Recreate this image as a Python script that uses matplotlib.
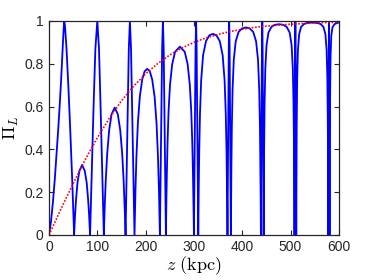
import matplotlib
matplotlib.use("Agg")
import matplotlib.pyplot as plt

# ---- data ----
z_pol = [0, 4, 8, 12, 16, 19, 22, 25, 28, 30, 31.5, 33, 36, 40, 44, 48, 52,
         53, 54, 56, 59, 63, 68.5, 74, 78, 81, 83, 84, 85,
         88.5, 92, 96, 100, 103.5, 107, 110.2, 113.5,
         114.5, 115.5, 117.5, 120.5, 124.5, 129.5, 136, 142.5, 147.5, 151.5, 154.5, 156.5, 157.5, 158.5,
         160.8, 163, 165.2, 167.5, 169.8, 172.2, 174.6, 177,
         178, 179, 181, 184, 188, 193, 198, 203.3, 208.6, 213.6, 218.6, 222.6, 225.6, 227.6, 228.6, 229.6,
         231.1, 232.7, 234.2, 235.8, 237.4, 238.9, 240.5, 242,
         242.5, 243, 244, 245.5, 247.5, 250.5, 255, 261, 271, 281, 287, 291.5, 294.5, 296.5, 298, 299, 299.5, 300,
         301.1, 302.25, 303.4, 304.5, 305.6, 306.75, 307.9, 309,
         309.5, 310, 311, 312.5, 315, 319, 325, 332, 339.25, 346.5, 353.5, 359.5, 363.5, 366, 367.5, 368.5, 369, 369.5,
         370.4, 371.25, 372.1, 373, 373.9, 374.75, 375.6, 376.5,
         377, 377.5, 378.5, 380, 382.5, 386.5, 392.5, 399.5, 407.6, 415.7, 422.7, 428.7, 432.7, 435.2, 436.7, 437.7, 438.2, 438.7,
         439.4, 440.1, 440.8, 441.5, 442.2, 442.9, 443.6, 444.3,
         444.8, 445.3, 446.3, 447.8, 450.3, 454.3, 460.3, 467.3, 476.25, 485.2, 492.2, 498.2, 502.2, 504.7, 506.2, 507.2, 507.7, 508.2,
         508.65, 509.1, 509.55, 510, 510.45, 510.9, 511.35, 511.8,
         512.3, 512.8, 513.8, 515.3, 517.8, 521.8, 527.8, 534.8, 545, 555.2, 562.2, 568.2, 572.2, 574.7, 576.2, 577.2, 577.7, 578.2,
         578.5, 578.85, 579.2, 579.5, 579.8, 580.15, 580.5, 580.8,
         581.3, 581.8, 582.8, 584.3, 586.8, 590.8, 596.8, 600]
pi_pol = [0, 0.06, 0.15, 0.26, 0.39, 0.49, 0.60, 0.72, 0.86, 0.95, 1.0, 0.98, 0.88, 0.70, 0.49, 0.26, 0,
          0.05, 0.095, 0.165, 0.245, 0.30, 0.327, 0.30, 0.245, 0.165, 0.095, 0.05, 0,
          0.29, 0.58, 0.87, 1.0, 0.87, 0.58, 0.29, 0,
          0.075, 0.142, 0.255, 0.38, 0.489, 0.564, 0.595, 0.564, 0.489, 0.38, 0.255, 0.142, 0.075, 0,
          0.29, 0.58, 0.87, 1.0, 0.87, 0.58, 0.29, 0,
          0.113, 0.211, 0.366, 0.523, 0.646, 0.727, 0.765, 0.776, 0.765, 0.727, 0.646, 0.523, 0.366, 0.211, 0.113, 0,
          0.29, 0.58, 0.87, 1.0, 0.87, 0.58, 0.29, 0,
          0.085, 0.161, 0.291, 0.44, 0.577, 0.702, 0.798, 0.856, 0.88, 0.856, 0.798, 0.702, 0.577, 0.44, 0.291, 0.161, 0.085, 0,
          0.29, 0.58, 0.87, 1.0, 0.87, 0.58, 0.29, 0,
          0.12, 0.225, 0.391, 0.562, 0.723, 0.84, 0.906, 0.933, 0.94, 0.933, 0.906, 0.84, 0.723, 0.562, 0.391, 0.225, 0.12, 0,
          0.29, 0.58, 0.87, 1.0, 0.87, 0.58, 0.29, 0,
          0.169, 0.305, 0.503, 0.678, 0.818, 0.905, 0.949, 0.965, 0.97, 0.965, 0.949, 0.905, 0.818, 0.678, 0.503, 0.305, 0.169, 0,
          0.29, 0.58, 0.87, 1.0, 0.87, 0.58, 0.29, 0,
          0.23, 0.40, 0.616, 0.778, 0.887, 0.946, 0.972, 0.982, 0.985, 0.982, 0.972, 0.946, 0.887, 0.778, 0.616, 0.40, 0.23, 0,
          0.29, 0.58, 0.87, 1.0, 0.87, 0.58, 0.29, 0,
          0.318, 0.519, 0.734, 0.864, 0.938, 0.972, 0.986, 0.991, 0.993, 0.991, 0.986, 0.972, 0.938, 0.864, 0.734, 0.519, 0.318, 0,
          0.29, 0.58, 0.87, 1.0, 0.87, 0.58, 0.29, 0,
          0.45, 0.63, 0.83, 0.93, 0.97, 0.985, 0.991, 0.993]

z_env = [0, 25, 50, 75, 100, 125, 150, 175, 200, 225, 250, 275, 300,
         325, 350, 375, 400, 425, 450, 475, 500, 525, 550, 575, 600]
pi_env = [0, 0.122, 0.240, 0.352, 0.454, 0.546, 0.627, 0.695, 0.753, 0.801, 0.841, 0.874, 0.900,
          0.921, 0.937, 0.951, 0.961, 0.970, 0.976, 0.981, 0.985, 0.988, 0.991, 0.993, 0.994]

x_ticks = [0, 100, 200, 300, 400, 500, 600]
y_ticks = [0, 0.2, 0.4, 0.6, 0.8, 1]
y_tick_labels = ["0", "0.2", "0.4", "0.6", "0.8", "1"]

# ---- figure ----
plt.rcParams['font.family'] = ['Liberation Sans', 'DejaVu Sans']
plt.rcParams['mathtext.fontset'] = 'cm'

fig = plt.figure(figsize=(3.74, 2.8), dpi=100)
ax = fig.add_axes([0.131, 0.161, 0.775, 0.764])

ax.plot(z_pol, pi_pol, color=(0, 0, 1), lw=1.3)
ax.plot(z_env, pi_env, color=(1, 0, 0), lw=1.2, linestyle=(0, (1, 1)))

ax.set_xlim(0, 600)
ax.set_ylim(0, 1)
ax.set_xticks(x_ticks)
ax.set_yticks(y_ticks)
ax.set_yticklabels(y_tick_labels)

ax.tick_params(direction='in', length=3.5, width=0.8, top=True, right=True,
               labelsize=10, colors=(0.15, 0.15, 0.15), pad=4)
for s in ax.spines.values():
    s.set_color((0.15, 0.15, 0.15))
    s.set_linewidth(0.9)

ax.set_xlabel(r'$z\ \mathrm{(kpc)}$', fontsize=13, labelpad=0, color='black')
ax.set_ylabel(r'$\Pi_L$', fontsize=13, labelpad=2, color='black')

fig.savefig('out.png', dpi=100)
